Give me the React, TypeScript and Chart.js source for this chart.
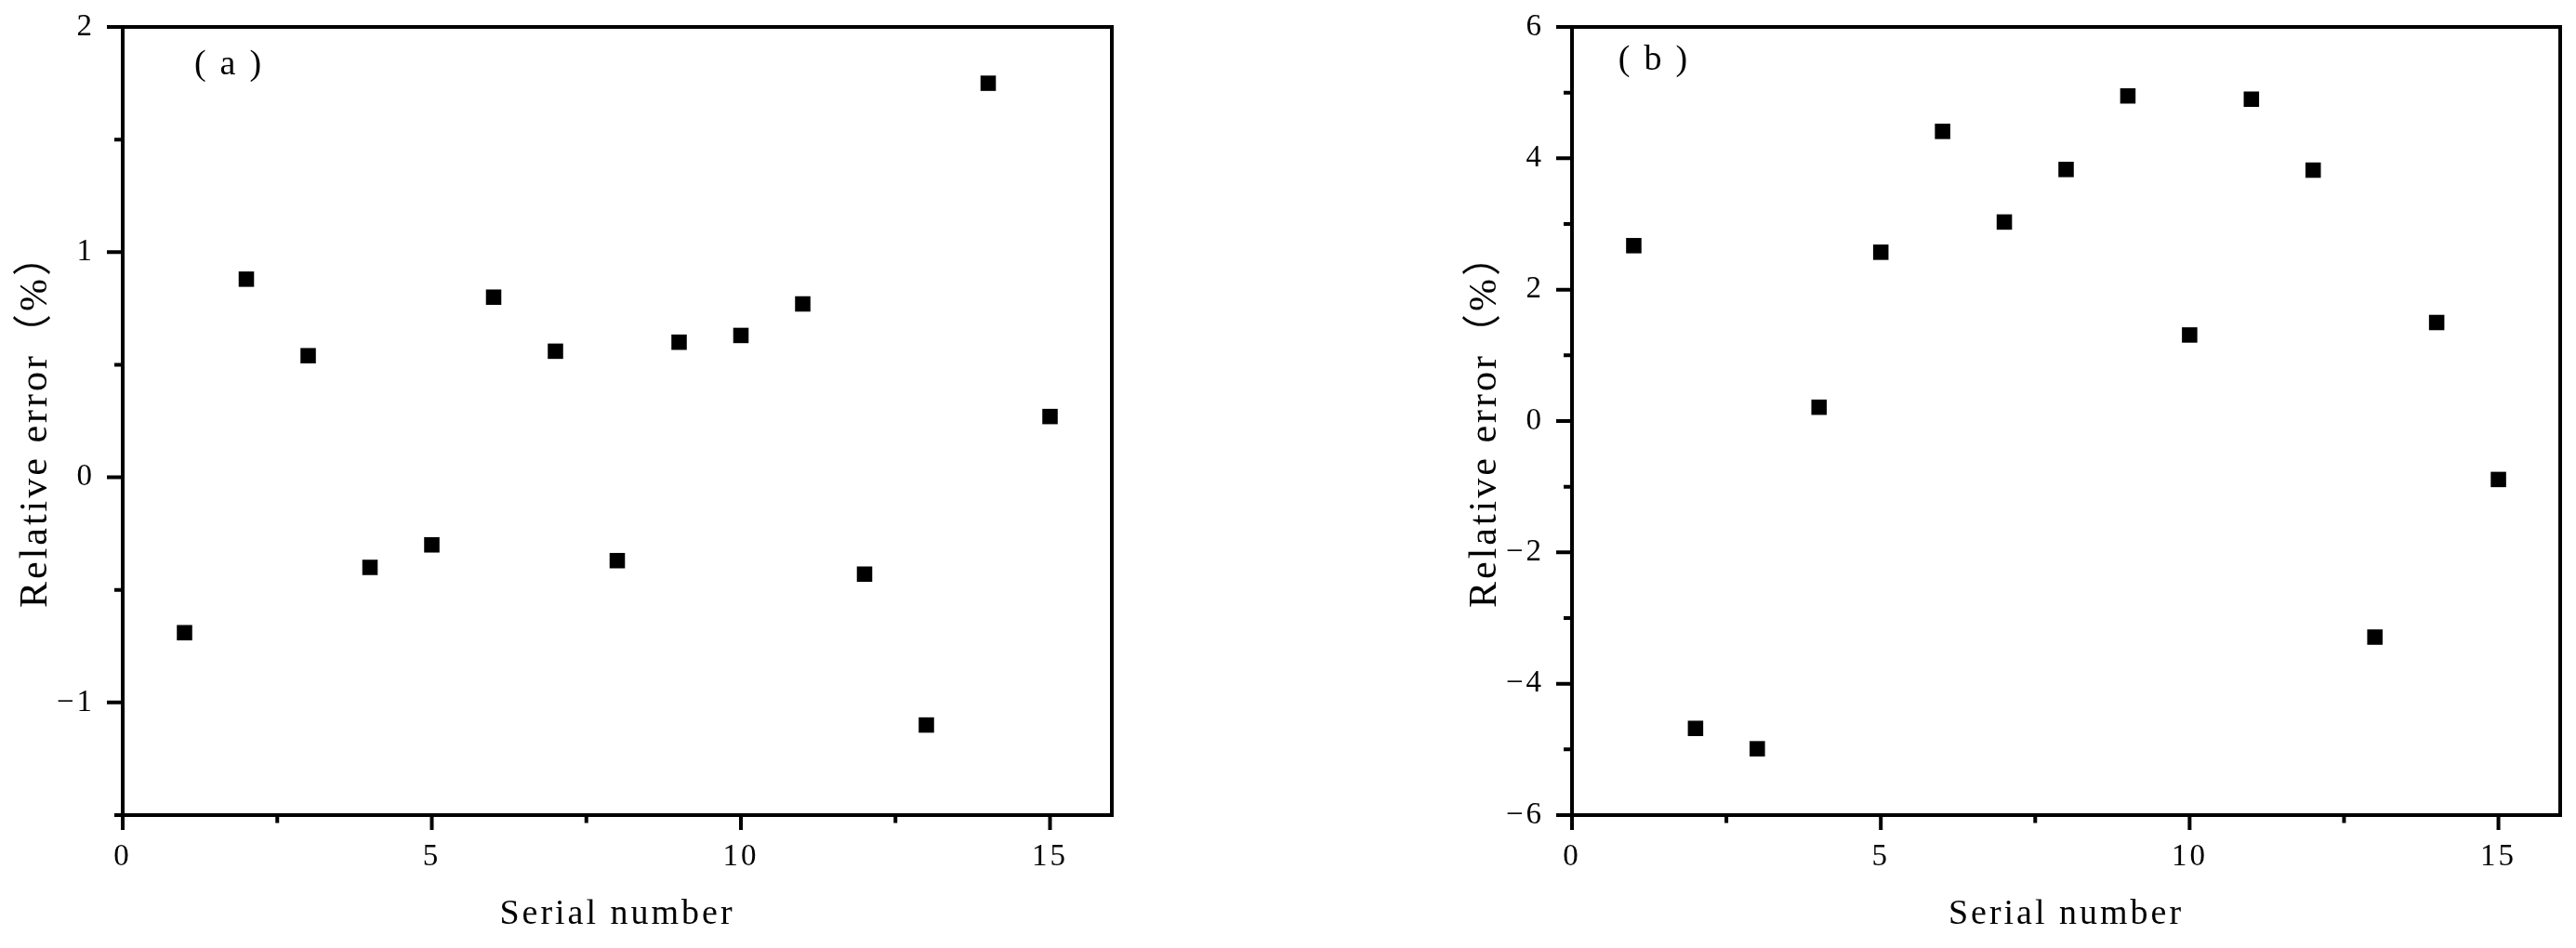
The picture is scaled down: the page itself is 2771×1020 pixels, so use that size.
import React, { useEffect, useRef } from 'react';
import { Chart, registerables } from 'chart.js';

Chart.register(...registerables);

// ---- data ----
const serialNumbers = [1, 2, 3, 4, 5, 6, 7, 8, 9, 10, 11, 12, 13, 14, 15];
const relativeErrorA = [-0.69, 0.88, 0.54, -0.4, -0.3, 0.8, 0.56, -0.37, 0.6, 0.63, 0.77, -0.43, -1.1, 1.75, 0.27];
const relativeErrorB = [2.67, -4.68, -4.99, 0.21, 2.57, 4.41, 3.03, 3.83, 4.95, 1.31, 4.9, 3.82, -3.29, 1.5, -0.89];

const xMajorTicks = [0, 5, 10, 15];
const xMinorTicks = [2.5, 7.5, 12.5];
const yMajorTicksA = [-1, 0, 1, 2];
const yMinorTicksA = [-1.5, -0.5, 0.5, 1.5];
const yMajorTicksB = [-6, -4, -2, 0, 2, 4, 6];
const yMinorTicksB = [-5, -3, -1, 1, 3, 5];

const xTitle = 'Serial number';
const yTitle = 'Relative error（%）';

const FONT = "'Liberation Serif', 'Noto Sans CJK SC', serif";

type PanelProps = {
  values: number[];
  yMin: number;
  yMax: number;
  yStep: number;
  yMajor: number[];
  yMinor: number[];
  label: string;
  labelDx: number;
  labelDy: number;
  padLeft: number;
  padRight: number;
  width: number;
  left: number;
};

function fmt(v: number): string {
  return v < 0 ? '\u2212' + Math.abs(v) : String(v);
}

function Panel(p: PanelProps) {
  const ref = useRef<HTMLCanvasElement>(null);
  useEffect(() => {
    const canvas = ref.current!;
    const framePlugin = {
      id: 'frameAndLabel',
      beforeDraw(chart: any) {
        (chart.ctx as any).letterSpacing = '3px';
      },
      afterDraw(chart: any) {
        const { ctx, chartArea: a, scales } = chart;
        const xs = scales.x;
        const ys = scales.y;
        ctx.save();
        ctx.strokeStyle = '#000';
        ctx.lineWidth = 4;
        ctx.lineJoin = 'miter';
        ctx.lineCap = 'butt';
        ctx.strokeRect(a.left, a.top, a.right - a.left, a.bottom - a.top);
        ctx.beginPath();
        for (const v of p.yMajor) {
          const py = ys.getPixelForValue(v);
          ctx.moveTo(a.left - 17, py);
          ctx.lineTo(a.left, py);
        }
        for (const v of p.yMinor) {
          const py = ys.getPixelForValue(v);
          ctx.moveTo(a.left - 9, py);
          ctx.lineTo(a.left, py);
        }
        for (const v of xMajorTicks) {
          const px = xs.getPixelForValue(v);
          ctx.moveTo(px, a.bottom);
          ctx.lineTo(px, a.bottom + 16);
        }
        for (const v of xMinorTicks) {
          const px = xs.getPixelForValue(v);
          ctx.moveTo(px, a.bottom);
          ctx.lineTo(px, a.bottom + 8.5);
        }
        ctx.stroke();
        (ctx as any).letterSpacing = '15px';
        ctx.fillStyle = '#000';
        ctx.font = `38px ${FONT}`;
        ctx.textAlign = 'center';
        ctx.textBaseline = 'middle';
        ctx.fillText(p.label, a.left + p.labelDx + 7.5, a.top + p.labelDy);
        ctx.restore();
      },
    };

    const chart = new Chart(canvas, {
      type: 'scatter',
      data: {
        datasets: [
          {
            data: serialNumbers.map((x, i) => ({ x, y: p.values[i] })),
            pointStyle: 'rect',
            pointRadius: 11.7,
            pointHoverRadius: 11.7,
            backgroundColor: '#000',
            borderColor: '#000',
            borderWidth: 0,
          },
        ],
      },
      options: {
        responsive: false,
        animation: false,
        events: [],
        layout: { padding: { left: p.padLeft, right: p.padRight, top: 29, bottom: 0 } },
        plugins: { legend: { display: false }, tooltip: { enabled: false } },
        scales: {
          x: {
            type: 'linear',
            min: 0,
            max: 16,
            grid: { display: false, drawTicks: false },
            border: { display: false },
            ticks: {
              stepSize: 5,
              includeBounds: false,
              autoSkip: false,
              maxRotation: 0,
              color: '#000',
              padding: 26,
              font: { family: FONT, size: 33 },
              callback: (v: any) => fmt(Number(v)),
            },
            title: {
              display: true,
              text: xTitle,
              color: '#000',
              font: { family: FONT, size: 38 },
              padding: { top: 0, bottom: 13 },
            },
            afterFit: (s: any) => {
              s.height = 143;
              s.paddingLeft = 0;
              s.paddingRight = 0;
            },
          },
          y: {
            type: 'linear',
            min: p.yMin,
            max: p.yMax,
            grid: { display: false, drawTicks: false },
            border: { display: false },
            ticks: {
              stepSize: p.yStep,
              includeBounds: false,
              autoSkip: false,
              color: '#000',
              padding: 30,
              font: { family: FONT, size: 33 },
              callback: (v: any) => fmt(Number(v)),
            },
            title: {
              display: true,
              text: yTitle,
              color: '#000',
              font: { family: FONT, size: 42 },
              padding: { top: 14, bottom: 0 },
            },
            afterFit: (s: any) => {
              s.width = 132;
              s.paddingTop = 0;
              s.paddingBottom = 0;
            },
          },
        },
      },
      plugins: [framePlugin],
    } as any);
    return () => chart.destroy();
  }, []);
  return (
    <canvas
      ref={ref}
      width={p.width}
      height={1020}
      style={{ position: 'absolute', left: p.left, top: 0, width: p.width, height: 1020, display: 'block' }}
    />
  );
}

export default function App() {
  return (
    <div style={{ position: 'fixed', left: 0, top: 0, width: 2771, height: 1020, background: '#fff', overflow: 'hidden' }}>
      <Panel
        values={relativeErrorA}
        yMin={-1.5}
        yMax={2}
        yStep={1}
        yMajor={yMajorTicksA}
        yMinor={yMinorTicksA}
        label="(a)"
        labelDx={113}
        labelDy={41}
        padLeft={0}
        padRight={189}
        width={1385}
        left={0}
      />
      <Panel
        values={relativeErrorB}
        yMin={-6}
        yMax={6}
        yStep={2}
        yMajor={yMajorTicksB}
        yMinor={yMinorTicksB}
        label="(b)"
        labelDx={87}
        labelDy={36}
        padLeft={174}
        padRight={17}
        width={1386}
        left={1385}
      />
    </div>
  );
}
